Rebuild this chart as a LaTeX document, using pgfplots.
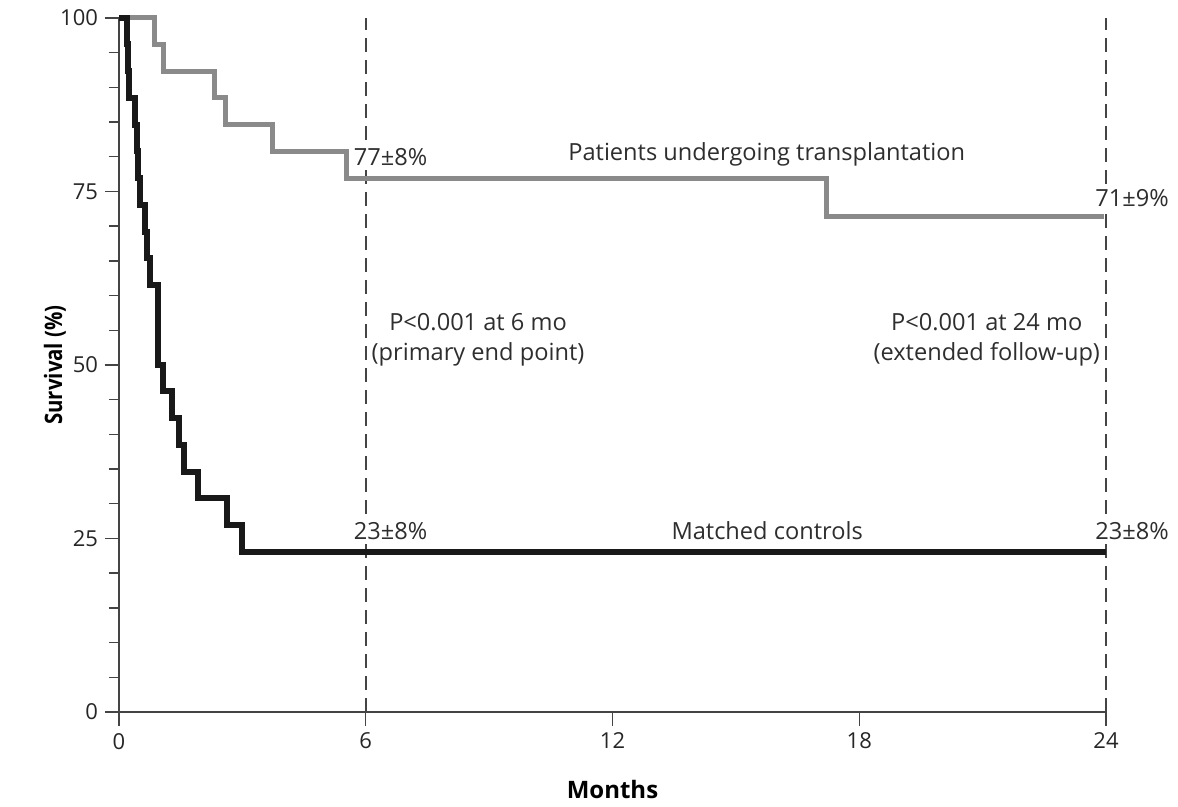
\documentclass[border=0pt]{standalone}
\usepackage{graphicx}
\usepackage{pgfplots}
\pgfplotsset{compat=1.18}
\usepackage{fontspec}
\setmainfont{Open Sans}
\usetikzlibrary{calc}
\definecolor{tx}{HTML}{8A8A8A}
\definecolor{axc}{HTML}{444444}
\begin{document}
\begin{tikzpicture}
\begin{axis}[
  scale only axis,
  width=493.5pt, height=347pt,
  xmin=0, xmax=24, ymin=0, ymax=100,
  axis x line=bottom, axis y line=left,
  axis line style={-, axc, line width=1pt},
  xtick={0,6,12,18,24}, ytick={0,25,50,75,100},
  minor y tick num=4,
  tick align=outside,
  major tick length=7pt, minor tick length=5pt,
  tick style={axc, line width=0.7pt},
  /pgf/number format/assume math mode=true,
  xticklabel style={font=\fontsize{11}{13}\selectfont, text=black!85},
  yticklabel style={font=\fontsize{11}{13}\selectfont, text=black!85},
  xlabel={\bfseries Months},
  ylabel={\scalebox{0.85}[1]{\bfseries Survival (\%)}},
  label style={font=\fontsize{12}{14}\selectfont},
  xlabel style={at={(axis description cs:0.5,0)}, anchor=center, yshift=-39pt},
  ylabel style={at={(axis description cs:0,0.5)}, anchor=center, yshift=32pt},
  clip=false,
]
\addplot[axc, line width=0.8pt, dash pattern=on 7pt off 4pt] coordinates {(6,0) (6,100)};
\addplot[axc, line width=0.8pt, dash pattern=on 7pt off 4pt] coordinates {(24,0) (24,100)};
\addplot[const plot, tx, line width=2.5pt] coordinates {
(0,100) (0.875,96.2) (1.08,92.3) (2.33,88.5) (2.58,84.6) (3.74,80.8) (5.52,76.9) (17.2,71.4) (23.95,71.4)};
\addplot[const plot, black!90, line width=3pt] coordinates {
(0,100) (0.19,96.2) (0.22,92.3) (0.25,88.5) (0.39,84.6) (0.43,80.8) (0.47,76.9) (0.51,73.1)
(0.63,69.2) (0.67,65.4) (0.75,61.5) (0.96,50) (1.08,46.2) (1.30,42.3) (1.47,38.5)
(1.57,34.6) (1.91,30.8) (2.62,26.9) (2.98,23.1) (24,23.1)};
\path (rel axis cs:0,0) coordinate (O) (rel axis cs:1,1) coordinate (TR);
\begin{scope}[every node/.style={font=\fontsize{11.8}{15}\selectfont, text=black!82, inner sep=0.5pt}]
\node[anchor=west, fill=white] at (axis cs:5.68,80.0) {77±8\%};
\node at (axis cs:15.75,80.3) {Patients undergoing transplantation};
\node[anchor=east, fill=white] at (axis cs:25.56,74.1) {71±9\%};
\node[align=center] at (axis cs:8.73,53.6) {P<0.001 at 6 mo\\(primary end point)};
\node[align=center] at (axis cs:21.1,53.6) {P<0.001 at 24 mo\\(extended follow-up)};
\node[anchor=west, fill=white] at (axis cs:5.68,26.1) {23±8\%};
\node at (axis cs:15.76,26.1) {Matched controls};
\node[anchor=east, fill=white] at (axis cs:25.56,26.1) {23±8\%};
\end{scope}
\end{axis}
\pgfresetboundingbox
\path[use as bounding box] ($(O)+(-59.5pt,-47.5pt)$) rectangle ($(TR)+(36pt,9pt)$);
\end{tikzpicture}
\end{document}
